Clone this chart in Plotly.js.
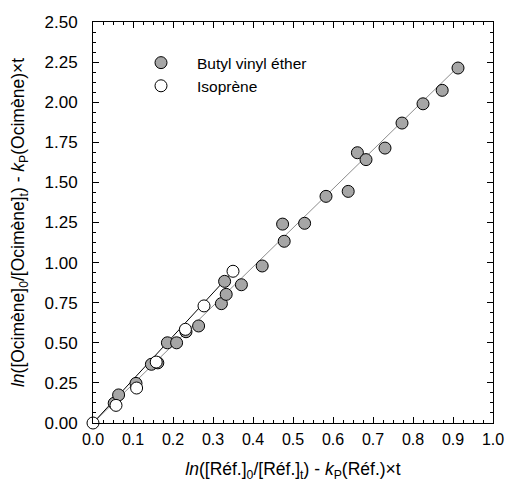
<!DOCTYPE html>
<html>
<head>
<meta charset="utf-8">
<script src="https://cdn.plot.ly/plotly-3.0.1.min.js"></script>
<style>html,body{margin:0;padding:0;background:#fff;}#chart{width:509px;height:483px;}</style>
</head>
<body>
<div id="chart"></div>
<script>
// Butyl vinyl éther (gray filled)
const bveX = [0.053, 0.064, 0.1075, 0.146, 0.162, 0.186, 0.209, 0.2325, 0.264, 0.321, 0.333, 0.329, 0.371, 0.423, 0.478, 0.474, 0.529, 0.5825, 0.638, 0.661, 0.6825, 0.73, 0.7725, 0.825, 0.873, 0.9125];
const bveY = [0.123, 0.175, 0.247, 0.366, 0.375, 0.50, 0.50, 0.569, 0.605, 0.744, 0.802, 0.883, 0.862, 0.979, 1.133, 1.24, 1.245, 1.413, 1.444, 1.685, 1.642, 1.714, 1.87, 1.99, 2.074, 2.213];
// Isoprène (open)
const isoX = [0, 0.0575, 0.109, 0.158, 0.231, 0.2775, 0.35];
const isoY = [0, 0.11, 0.218, 0.38, 0.584, 0.73, 0.946];
// Fit lines
const bveFitX = [0, 0.9125];
const bveFitY = [0, 2.22];
const isoFitX = [0, 0.35];
const isoFitY = [0, 0.946];

const font = 'Liberation Sans, Arial, sans-serif';

const traces = [
  {x: bveFitX, y: bveFitY, mode: 'lines', line: {color: '#8c8c8c', width: 1}, showlegend: false, hoverinfo: 'skip', cliponaxis: false},
  {x: isoFitX, y: isoFitY, mode: 'lines', line: {color: '#000000', width: 1}, showlegend: false, hoverinfo: 'skip', cliponaxis: false},
  {x: bveX, y: bveY, mode: 'markers', name: 'Butyl vinyl éther', cliponaxis: false,
   marker: {size: 12, color: '#a6a6a6', line: {color: '#000', width: 1}}},
  {x: isoX, y: isoY, mode: 'markers', name: 'Isoprène', cliponaxis: false,
   marker: {size: 12, color: '#ffffff', line: {color: '#000', width: 1}}}
];

const layout = {
  width: 509, height: 483,
  margin: {l: 93, r: 16, t: 22, b: 60},
  paper_bgcolor: '#fff', plot_bgcolor: '#fff',
  font: {family: font, size: 15, color: '#000'},
  showlegend: true,
  legend: {x: 0.08, y: 0.94, xanchor: 'left', yanchor: 'top', bgcolor: 'rgba(0,0,0,0)',
           font: {family: font, size: 15.5}, itemwidth: 62, tracegroupgap: 0},
  xaxis: {
    range: [0, 1], dtick: 0.1, tickformat: '.1f',
    ticks: 'inside', ticklen: 6, tickcolor: '#000', tickwidth: 1,
    showline: true, linecolor: '#000', linewidth: 1, mirror: 'ticks',
    showgrid: false, zeroline: false,
    minor: {dtick: 0.025, ticks: 'inside', ticklen: 3, tickcolor: '#000', showgrid: false},
    tickfont: {family: font, size: 16}, ticklabelstandoff: 2,
    title: {text: '<i>ln</i>([Réf.]<sub>0</sub>/[Réf.]<sub>t</sub>) - <i>k</i><sub>P</sub>(Réf.)×t', font: {family: font, size: 17.5}, standoff: 15}
  },
  yaxis: {
    range: [0, 2.5], dtick: 0.25, tickformat: '.2f',
    ticks: 'inside', ticklen: 6, tickcolor: '#000', tickwidth: 1,
    showline: true, linecolor: '#000', linewidth: 1, mirror: 'ticks',
    showgrid: false, zeroline: false,
    minor: {dtick: 0.0625, ticks: 'inside', ticklen: 3, tickcolor: '#000', showgrid: false},
    tickfont: {family: font, size: 17}, ticklabelstandoff: 11,
    title: {text: '<i>ln</i>([Ocimène]<sub>0</sub>/[Ocimène]<sub>t</sub>) - <i>k</i><sub>P</sub>(Ocimène)×t', font: {family: font, size: 17.5}, standoff: 15}
  }
};

Plotly.newPlot('chart', traces, layout, {staticPlot: true, displayModeBar: false});
</script>
</body>
</html>
